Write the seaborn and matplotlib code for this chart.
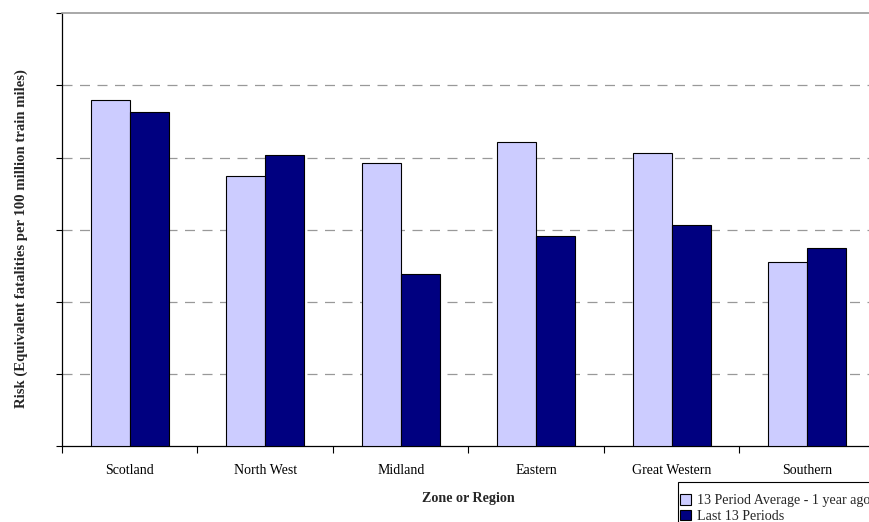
import matplotlib
matplotlib.use("Agg")
import matplotlib.pyplot as plt
import seaborn as sns
import pandas as pd
import numpy as np
from matplotlib.patches import Patch, Rectangle

regions = ["Scotland", "North West", "Midland", "Eastern", "Great Western", "Southern"]
series_names = ["13 Period Average - 1 year ago", "Last 13 Periods"]
avg_year_ago = [4.80, 3.75, 3.93, 4.22, 4.06, 2.55]
last_13 = [4.63, 4.04, 2.38, 2.91, 3.07, 2.74]
colors = ["#CCCCFF", "#000080"]

df = pd.DataFrame({
    "Region": regions * 2,
    "Series": [series_names[0]] * len(regions) + [series_names[1]] * len(regions),
    "Risk": avg_year_ago + last_13,
})

sns.set_theme(style="white")
serif = ["Liberation Serif", "DejaVu Serif"]
plt.rcParams["font.family"] = serif

fig = plt.figure(figsize=(8.7, 5.22), dpi=100)
ax = fig.add_axes([62 / 870, 1 - 446 / 522, (875 - 62) / 870, (446 - 13.3) / 522])

sns.barplot(data=df, x="Region", y="Risk", hue="Series", hue_order=series_names,
            order=regions, palette=colors, saturation=1, edgecolor="black", linewidth=0.8,
            width=0.576, gap=0, ax=ax, legend=False, zorder=3)

ax.set_ylim(0, 6)
ax.set_xlim(-0.5, len(regions) - 0.5)
ax.set_yticks(np.arange(0, 7, 1))
ax.set_yticklabels([])
for y in range(1, 6):
    ax.axhline(y, color="#999999", linestyle=(0, (8, 6)), linewidth=0.9, zorder=1)

ax.set_xticks(np.arange(len(regions)))
ax.set_xticklabels(regions, fontsize=10, color="black")
ax.set_xticks(np.arange(-0.5, len(regions) + 0.5, 1), minor=True)
ax.tick_params(axis="x", which="major", length=0, pad=13)
ax.tick_params(axis="x", which="minor", length=5, width=0.8, color="black", direction="out", bottom=True)
ax.tick_params(axis="y", which="major", length=4, width=0.8, color="black", direction="out", left=True)

ax.set_xlabel("Zone or Region", fontsize=10.2, fontweight="bold", labelpad=11)
ax.set_ylabel("Risk (Equivalent fatalities per 100 million train miles)", fontsize=10.6,
              fontweight="bold")
ax.yaxis.set_label_coords((28 - 62) / 813, (446 - 239) / 432.7)

for s in ["left", "bottom"]:
    ax.spines[s].set_color("black")
    ax.spines[s].set_linewidth(0.9)
ax.spines["top"].set_color("#999999")
ax.spines["top"].set_linewidth(1.2)
ax.spines["right"].set_visible(False)

handles = [Patch(facecolor=c, edgecolor="black", linewidth=0.8) for c in colors]
leg = fig.legend(handles, series_names, loc="center left",
                 bbox_to_anchor=(680 / 870, 1 - 508.5 / 522), fontsize=10.1,
                 frameon=False, handlelength=0.8, handleheight=0.8, handletextpad=0.4,
                 borderpad=0, labelspacing=0.15, borderaxespad=0)
fig.patches.append(Rectangle((678 / 870, -0.02), 0.3, (522 - 482) / 522 + 0.02,
                             transform=fig.transFigure, fill=False, edgecolor="black",
                             linewidth=0.8, zorder=5))

fig.savefig("out.png", dpi=100)
